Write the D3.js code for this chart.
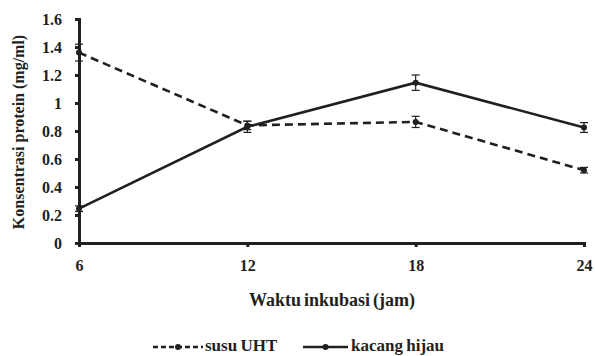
<!DOCTYPE html>
<html><head><meta charset="utf-8">
<script src="https://cdn.jsdelivr.net/npm/d3@7"></script>
<style>body{margin:0;background:#fff}svg{display:block}</style>
</head><body>
<svg id="c" width="595" height="356"></svg>
<script>
const hours = [6, 12, 18, 24];
const susuUHT = [1.36, 0.84, 0.865, 0.52];
const susuErr = [0.06, 0.03, 0.04, 0.02];
const kacangHijau = [0.245, 0.83, 1.145, 0.825];
const kacangErr = [0.02, 0.04, 0.055, 0.035];
const yTicks = [0, 0.2, 0.4, 0.6, 0.8, 1, 1.2, 1.4, 1.6];
const seriesNames = ["susu UHT", "kacang hijau"];

const svg = d3.select("#c");
const font = "'Liberation Serif', 'Times New Roman', serif";
const ink = "#231f20";
const x = d3.scaleLinear().domain([6, 24]).range([79, 584]);
const y = d3.scaleLinear().domain([0, 1.6]).range([243, 19]);

const xAxis = svg.append("g").attr("transform", "translate(0,243)")
  .call(d3.axisBottom(x).tickValues(hours).tickSize(4).tickPadding(13).tickFormat(d3.format("d")));
const yAxis = svg.append("g").attr("transform", "translate(79,0)")
  .call(d3.axisLeft(y).tickValues(yTicks).tickSize(4).tickPadding(13).tickFormat(d => d3.format("")(d)));
[xAxis, yAxis].forEach(g => {
  g.select(".domain").attr("stroke", ink).attr("stroke-width", 3);
  g.selectAll(".tick line").attr("stroke", ink).attr("stroke-width", 3);
  g.selectAll("text").attr("fill", ink).style("font-family", font).style("font-weight", "bold").style("font-size", "16px");
});
xAxis.selectAll("text").attr("dy", "0.71em");

const series = [
  {name: seriesNames[0], vals: susuUHT, err: susuErr, dash: "8,5"},
  {name: seriesNames[1], vals: kacangHijau, err: kacangErr, dash: null}
];
const line = d3.line().x(d => x(d[0])).y(d => y(d[1]));
series.forEach(s => {
  const pts = hours.map((h, i) => [h, s.vals[i], s.err[i]]);
  const g = svg.append("g");
  g.append("path").attr("d", line(pts)).attr("fill", "none").attr("stroke", ink)
    .attr("stroke-width", 2.6).attr("stroke-dasharray", s.dash);
  const eb = g.selectAll(".eb").data(pts).enter().append("g");
  eb.append("line").attr("x1", d => x(d[0])).attr("x2", d => x(d[0]))
    .attr("y1", d => y(d[1] - d[2])).attr("y2", d => y(d[1] + d[2])).attr("stroke", ink).attr("stroke-width", 1.2);
  eb.append("line").attr("x1", d => x(d[0]) - 4).attr("x2", d => x(d[0]) + 4)
    .attr("y1", d => y(d[1] + d[2])).attr("y2", d => y(d[1] + d[2])).attr("stroke", ink).attr("stroke-width", 1.2);
  eb.append("line").attr("x1", d => x(d[0]) - 4).attr("x2", d => x(d[0]) + 4)
    .attr("y1", d => y(d[1] - d[2])).attr("y2", d => y(d[1] - d[2])).attr("stroke", ink).attr("stroke-width", 1.2);
  g.selectAll("circle").data(pts).enter().append("circle")
    .attr("cx", d => x(d[0])).attr("cy", d => y(d[1])).attr("r", 3).attr("fill", ink);
});

svg.append("text").attr("x", 332).attr("y", 306).attr("text-anchor", "middle")
  .style("font-family", font).style("font-weight", "bold").style("font-size", "18px")
  .style("word-spacing", "-1.5px").attr("fill", ink)
  .text("Waktu inkubasi (jam)");
svg.append("text").attr("transform", "translate(24,132) rotate(-90)").attr("text-anchor", "middle")
  .style("font-family", font).style("font-weight", "bold").style("font-size", "16px").attr("fill", ink)
  .text("Konsentrasi protein (mg/ml)");

// legend
const leg = [
  {x0: 153, x1: 203, tx: 205, dash: "5,3", name: seriesNames[0]},
  {x0: 303, x1: 348, tx: 351, dash: null, name: seriesNames[1]}
];
leg.forEach(l => {
  svg.append("line").attr("x1", l.x0).attr("x2", l.x1).attr("y1", 347).attr("y2", 347)
    .attr("stroke", ink).attr("stroke-width", 2.6).attr("stroke-dasharray", l.dash);
  svg.append("circle").attr("cx", (l.x0 + l.x1) / 2).attr("cy", 347).attr("r", 3).attr("fill", ink);
  svg.append("text").attr("x", l.tx).attr("y", 351)
    .style("font-family", font).style("font-weight", "bold").style("font-size", "17px")
    .style("word-spacing", "-1px").attr("fill", ink).text(l.name);
});
</script>
</body></html>
